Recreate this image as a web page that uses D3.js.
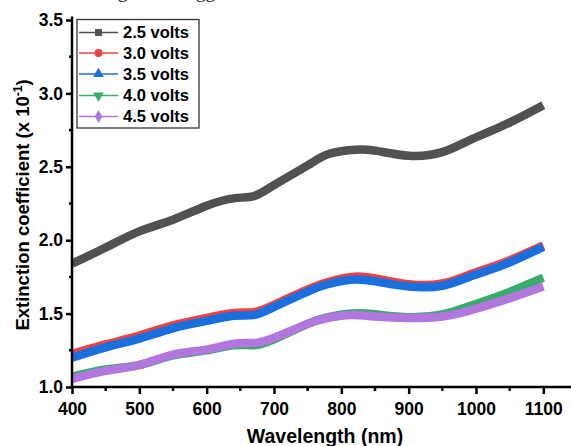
<!DOCTYPE html>
<html>
<head>
<meta charset="utf-8">
<script src="https://cdn.jsdelivr.net/npm/d3@7"></script>
<style>
  html, body { margin: 0; padding: 0; background: #fff; }
  svg { display: block; }
</style>
</head>
<body>
<svg id="chart" width="571" height="446"></svg>
<script>
// Wavelength sample points (nm)
const wavelengths = [400, 450, 500, 550, 600, 640, 670, 700, 750, 780, 815, 850, 900, 950, 990, 1040, 1100];

// Extinction coefficient (x 10^-1) for each applied voltage
const k25 = [1.84, 1.95, 2.06, 2.14, 2.235, 2.285, 2.30, 2.375, 2.51, 2.585, 2.615, 2.61, 2.575, 2.60, 2.68, 2.78, 2.92];
const k30 = [1.225, 1.29, 1.35, 1.42, 1.47, 1.505, 1.51, 1.56, 1.665, 1.715, 1.75, 1.74, 1.70, 1.705, 1.765, 1.845, 1.965];
const k35 = [1.20, 1.27, 1.33, 1.40, 1.45, 1.485, 1.49, 1.545, 1.65, 1.70, 1.73, 1.72, 1.685, 1.69, 1.75, 1.83, 1.955];
const k40 = [1.07, 1.12, 1.15, 1.215, 1.25, 1.285, 1.285, 1.325, 1.43, 1.475, 1.50, 1.495, 1.475, 1.495, 1.55, 1.63, 1.745];
const k45 = [1.055, 1.11, 1.15, 1.22, 1.255, 1.295, 1.30, 1.335, 1.43, 1.47, 1.49, 1.48, 1.47, 1.48, 1.52, 1.59, 1.685];

const seriesNames = ["2.5 volts", "3.0 volts", "3.5 volts", "4.0 volts", "4.5 volts"];
const seriesColors = ["#515151", "#F14040", "#1A6FDF", "#37AD6B", "#B177DE"];
const seriesSymbols = [d3.symbolSquare, d3.symbolCircle, d3.symbolTriangle, "down", d3.symbolDiamond];
const seriesValues = [k25, k30, k35, k40, k45];

const xTicks = [400, 500, 600, 700, 800, 900, 1000, 1100];
const yTicks = [1.0, 1.5, 2.0, 2.5, 3.0, 3.5];

const svg = d3.select("#chart");
const font = "'Liberation Sans', Arial, sans-serif";

const x = d3.scaleLinear().domain([400, 1150]).range([72, 577]);
const y = d3.scaleLinear().domain([1.0, 3.5]).range([387, 20]);

// caption line above the figure (mostly outside the frame)
svg.append("text").attr("x", 118).attr("y", -2)
  .attr("font-family", "'Liberation Serif', serif").attr("font-size", 19)
  .attr("fill", "#111").text("g");
svg.append("text").attr("x", 196).attr("y", -2)
  .attr("font-family", "'Liberation Serif', serif").attr("font-size", 19)
  .attr("fill", "#111").text("gg");

// curves
const line = d3.line()
  .x((d, i) => x(wavelengths[i]))
  .y(d => y(d))
  .curve(d3.curveNatural);

const plot = svg.append("g");
seriesValues.forEach((vals, s) => {
  plot.append("path")
    .datum(vals)
    .attr("d", line)
    .attr("fill", "none")
    .attr("stroke", seriesColors[s])
    .attr("stroke-width", 8.5)
    .attr("stroke-linejoin", "round");
});

// axes
const xAxis = d3.axisBottom(x).tickValues(xTicks).tickFormat(d3.format("d")).tickSize(7).tickSizeOuter(0);
const gx = svg.append("g").attr("transform", `translate(0,${y(1.0)})`).call(xAxis);
gx.select(".domain").attr("stroke-width", 2.5).attr("d", `M${x(400)},0H571`);
gx.selectAll(".tick line").attr("stroke-width", 2.5);
gx.selectAll(".tick text").attr("font-family", font).attr("font-weight", "bold")
  .attr("font-size", 17.5).attr("fill", "#000").attr("dy", "1.05em");

// minor x ticks
svg.append("g").selectAll("line")
  .data(d3.range(450, 1150, 100))
  .join("line")
  .attr("x1", d => x(d)).attr("x2", d => x(d))
  .attr("y1", y(1.0)).attr("y2", y(1.0) + 4)
  .attr("stroke", "#000").attr("stroke-width", 2.5);

const yAxis = d3.axisLeft(y).tickValues(yTicks).tickFormat(d3.format(".1f")).tickSize(6).tickSizeOuter(0);
const gy = svg.append("g").attr("transform", `translate(${x(400)},0)`).call(yAxis);
gy.select(".domain").attr("stroke-width", 2.5).attr("d", `M0,${y(1.0) + 1}V16.5`);
gy.selectAll(".tick line").attr("stroke-width", 2.5);
gy.selectAll(".tick text").attr("font-family", font).attr("font-weight", "bold")
  .attr("font-size", 17.5).attr("fill", "#000").attr("x", -9);

// minor y ticks
svg.append("g").selectAll("line")
  .data(d3.range(1.25, 3.5, 0.5))
  .join("line")
  .attr("x1", x(400)).attr("x2", x(400) - 3)
  .attr("y1", d => y(d)).attr("y2", d => y(d))
  .attr("stroke", "#000").attr("stroke-width", 2.5);

// axis titles
svg.append("text")
  .attr("x", 325).attr("y", 443)
  .attr("text-anchor", "middle")
  .attr("font-family", font).attr("font-weight", "bold").attr("font-size", 19.5)
  .text("Wavelength (nm)");

const yTitle = svg.append("text")
  .attr("transform", "translate(29,205) rotate(-90)")
  .attr("text-anchor", "middle")
  .attr("font-family", font).attr("font-weight", "bold").attr("font-size", 18.5);
yTitle.append("tspan").text("Extinction coefficient (x 10");
yTitle.append("tspan").attr("dy", -7).attr("font-size", 12).text("-1");
yTitle.append("tspan").attr("dy", 7).text(")");

// legend
const legend = svg.append("g");
legend.append("rect")
  .attr("x", 77).attr("y", 19.5).attr("width", 122).attr("height", 108.5)
  .attr("fill", "#fff").attr("stroke", "#333").attr("stroke-width", 1.3);

const rowY = [32.5, 53, 74, 95.5, 116.5];
seriesNames.forEach((name, s) => {
  const g = legend.append("g").attr("transform", `translate(0,${rowY[s]})`);
  g.append("line").attr("x1", 79).attr("x2", 118).attr("y1", 0).attr("y2", 0)
    .attr("stroke", seriesColors[s]).attr("stroke-width", 1.5);
  const sym = seriesSymbols[s];
  if (sym === "down") {
    g.append("path").attr("d", d3.symbol(d3.symbolTriangle, 50)())
      .attr("transform", "translate(98.5,0) rotate(180)")
      .attr("fill", seriesColors[s]);
  } else {
    g.append("path").attr("d", d3.symbol(sym, sym === d3.symbolSquare ? 48 : 50)())
      .attr("transform", "translate(98.5,0)")
      .attr("fill", seriesColors[s]);
  }
  g.append("text").attr("x", 123).attr("y", 0).attr("dy", "0.36em")
    .attr("font-family", font).attr("font-weight", "bold").attr("font-size", 16.5)
    .attr("fill", "#000").text(name);
});
</script>
</body>
</html>
